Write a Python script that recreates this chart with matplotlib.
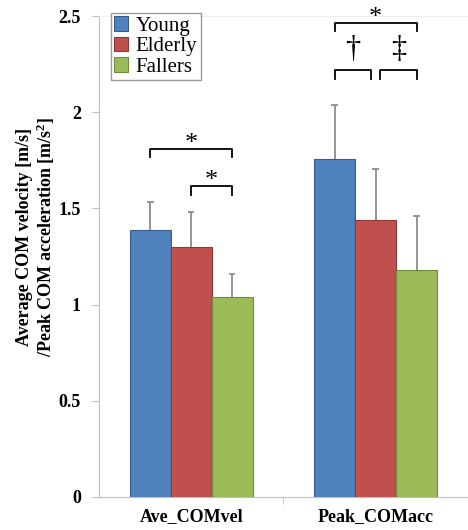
import matplotlib.pyplot as plt
import numpy as np

plt.rcParams['font.family'] = ['Liberation Serif', 'DejaVu Serif']

categories = ["Ave_COMvel", "Peak_COMacc"]
groups = ["Young", "Elderly", "Fallers"]
means = {
    "Young": [1.39, 1.755],
    "Elderly": [1.30, 1.44],
    "Fallers": [1.04, 1.18],
}
sds = {
    "Young": [0.145, 0.285],
    "Elderly": [0.18, 0.265],
    "Fallers": [0.12, 0.28],
}
colors = {"Young": "#4F81BD", "Elderly": "#C0504D", "Fallers": "#9BBB59"}
edges = {"Young": "#385D8A", "Elderly": "#8C3836", "Fallers": "#71893F"}

# significance brackets: (category, group_from, group_to, height, label)
brackets = [
    (0, 0, 2, 1.81, "*"),
    (0, 1, 2, 1.615, "*"),
    (1, 0, 2, 2.465, "*"),
    (1, 0, 1, 2.22, "\u2020"),
    (1, 1, 2, 2.22, "\u2021"),
]

fig = plt.figure(figsize=(4.68, 5.3), dpi=100)
ax = fig.add_axes([0.2115, 0.0623, 0.788, 0.9075])

x = np.arange(len(categories))
w = 0.222
cap = 0.018
for i, g in enumerate(groups):
    pos = x + (i - 1) * w
    m = np.array(means[g])
    top = m + np.array(sds[g])
    ax.bar(pos, m, w, color=colors[g], edgecolor=edges[g], linewidth=0.8,
           label=g, zorder=2)
    # upper error bar only
    ax.vlines(pos, m, top, color='#8c8c8c', lw=1.3, zorder=3)
    ax.hlines(top, pos - cap, pos + cap, color='#8c8c8c', lw=1.3, zorder=3)

drop = 0.045
for cat, g0, g1, h, lab in brackets:
    x0 = cat + (g0 - 1) * w
    x1 = cat + (g1 - 1) * w
    if lab != "*" and g0 == 1:
        x0 += 0.025
    if lab != "*" and g1 == 1:
        x1 -= 0.025
    ax.plot([x0, x0, x1, x1], [h - drop, h, h, h - drop], color='black', lw=1.3)
    if lab == "*":
        ax.text((x0 + x1) / 2, h - 0.03, lab, ha='center', va='bottom', fontsize=19)
    else:
        ax.text((x0 + x1) / 2, h + 0.105, lab, ha='center', va='center', fontsize=22)

ax.set_xlim(-0.5, 1.5)
ax.set_ylim(0, 2.5)
ax.set_xticks(x)
ax.set_xticklabels(categories, fontsize=13, fontweight='bold')
ax.set_xticks([0.5], minor=True)
ax.tick_params(axis='x', which='major', length=0, pad=8)
ax.tick_params(axis='x', which='minor', length=5, color='#bfbfbf')
ax.set_yticks([0, 0.5, 1, 1.5, 2, 2.5])
ax.set_yticklabels(["0", "0.5", "1", "1.5", "2", "2.5"], fontsize=13, fontweight='bold')
ax.tick_params(axis='y', length=5, color='#bfbfbf', pad=8)

for s in ['left', 'bottom']:
    ax.spines[s].set_color('#bfbfbf')
ax.spines['right'].set_visible(False)
ax.spines['top'].set_color('#eeeeee')

ax.set_ylabel("Average COM velocity [m/s]\n/Peak COM acceleration [m/s$\\mathregular{^2}$]",
              fontsize=13, fontweight='bold', linespacing=1.1)
ax.yaxis.set_label_coords(-0.114, 0.54)

leg = ax.legend(loc='upper left', bbox_to_anchor=(0.032, 1.006), fontsize=15,
                frameon=True, fancybox=False, edgecolor='#808080',
                handlelength=0.7, handleheight=0.7, handletextpad=0.35,
                borderpad=0.15, labelspacing=0.05, borderaxespad=0)
leg.get_frame().set_linewidth(1.0)

fig.savefig("out.png", dpi=100)
